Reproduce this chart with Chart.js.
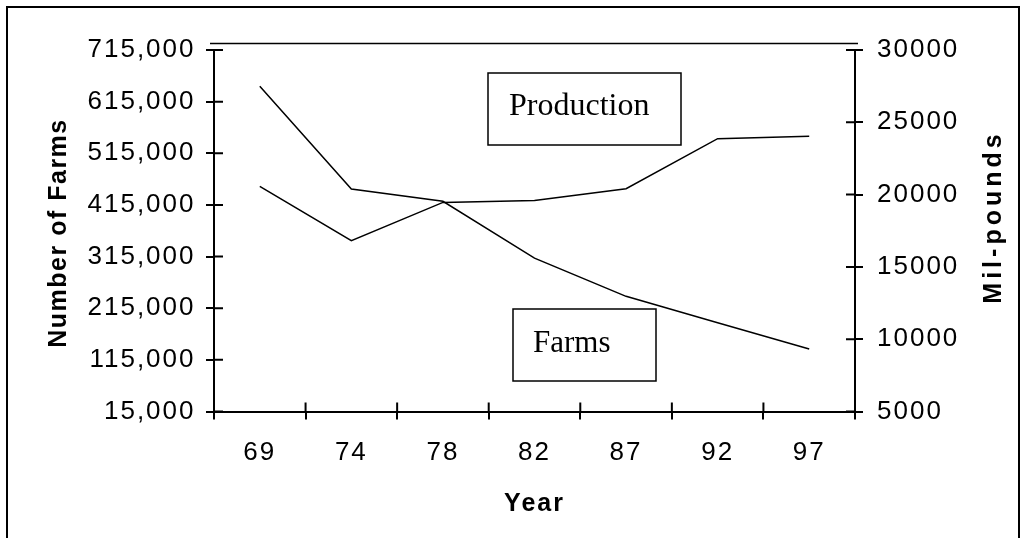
<!DOCTYPE html>
<html>
<head>
<meta charset="utf-8">
<script src="https://cdn.jsdelivr.net/npm/chart.js@4.4.1/dist/chart.umd.min.js"></script>
<style>
  html, body { margin: 0; padding: 0; background: #fff; }
  #wrap { width: 1025px; height: 538px; }
</style>
</head>
<body>
<div id="wrap"><canvas id="farmChart" width="1025" height="538"></canvas></div>
<script>
// Census years
var years = ['69', '74', '78', '82', '87', '92', '97'];
// Number of farms (left axis)
var farms = [645000, 446000, 422000, 312000, 238000, 187000, 136000];
// Production in million pounds (right axis)
var production = [20570, 16810, 19460, 19600, 20410, 23870, 24030];

var farmTicks = [15000, 115000, 215000, 315000, 415000, 515000, 615000, 715000];
var poundTicks = [5000, 10000, 15000, 20000, 25000, 30000];

Chart.defaults.font.family = '"Liberation Sans", Arial, sans-serif';
Chart.defaults.font.size = 26;
Chart.defaults.color = '#000';

function tickObjs(list) {
    return list.map(function(v) { return {value: v}; });
}

function verticalTitle(ctx, text, x, y, spacing) {
    ctx.save();
    ctx.letterSpacing = spacing;
    ctx.font = 'bold 25px "Liberation Sans", Arial, sans-serif';
    ctx.fillStyle = '#000';
    ctx.textAlign = 'center';
    ctx.textBaseline = 'alphabetic';
    ctx.translate(x, y);
    ctx.rotate(-Math.PI / 2);
    ctx.fillText(text, 0, 0);
    ctx.restore();
}

// frame, inner tick stubs, text boxes and the axis titles
var decorations = {
    id: 'decorations',
    beforeDraw: function(chart) {
        chart.ctx.letterSpacing = '2px';
    },
    afterDraw: function(chart) {
        var ctx = chart.ctx;
        var area = chart.chartArea;
        var x = chart.scales.x, yl = chart.scales.y, yr = chart.scales.y1;

        ctx.save();
        ctx.strokeStyle = '#000';
        ctx.lineWidth = 2;
        ctx.beginPath();
        yl.ticks.forEach(function(t, i) {
            var py = yl.getPixelForTick(i);
            ctx.moveTo(area.left, py);
            ctx.lineTo(area.left + 9, py);
        });
        yr.ticks.forEach(function(t, i) {
            var py = yr.getPixelForTick(i);
            ctx.moveTo(area.right, py);
            ctx.lineTo(area.right - 9, py);
        });
        for (var i = 1; i < years.length; i++) {
            var px = (x.getPixelForTick(i - 1) + x.getPixelForTick(i)) / 2;
            ctx.moveTo(px, area.bottom);
            ctx.lineTo(px, area.bottom - 9);
        }
        ctx.stroke();

        // outer frame
        ctx.beginPath();
        ctx.moveTo(7, 540);
        ctx.lineTo(7, 7);
        ctx.lineTo(1019, 7);
        ctx.lineTo(1019, 540);
        ctx.stroke();

        // thin line above the plot
        ctx.lineWidth = 1.5;
        ctx.beginPath();
        ctx.moveTo(area.left - 4, area.top - 6.5);
        ctx.lineTo(area.right + 3, area.top - 6.5);
        ctx.stroke();

        // axis titles, reading upwards
        verticalTitle(ctx, 'Number of Farms', 66, 233, '1.5px');
        verticalTitle(ctx, 'Mil-pounds', 1001, 217, '4px');

        // labelled boxes
        ctx.letterSpacing = '0px';
        ctx.lineWidth = 1.5;
        ctx.fillStyle = '#000';
        ctx.textAlign = 'left';
        ctx.textBaseline = 'alphabetic';
        ctx.strokeRect(488, 73, 193, 72);
        ctx.font = '32px "Liberation Serif", "Times New Roman", serif';
        ctx.fillText('Production', 509, 115);
        ctx.strokeRect(513, 309, 143, 72);
        ctx.font = '31px "Liberation Serif", "Times New Roman", serif';
        ctx.fillText('Farms', 533, 352);
        ctx.restore();
    }
};

var chart = new Chart(document.getElementById('farmChart'), {
    type: 'line',
    data: {
        labels: years,
        datasets: [{
            label: 'Farms',
            data: farms,
            yAxisID: 'y',
            borderColor: '#000',
            borderWidth: 1.5,
            pointRadius: 0,
            tension: 0,
            fill: false
        }, {
            label: 'Production',
            data: production,
            yAxisID: 'y1',
            borderColor: '#000',
            borderWidth: 1.5,
            pointRadius: 0,
            tension: 0,
            fill: false
        }]
    },
    options: {
        responsive: false,
        animation: false,
        layout: {padding: {top: 50, left: 38, right: 0, bottom: 0}},
        plugins: {
            legend: {display: false},
            tooltip: {enabled: false}
        },
        scales: {
            x: {
                offset: true,
                grid: {offset: true, drawOnChartArea: false, tickLength: 8, color: '#000', lineWidth: 2},
                border: {display: true, color: '#000', width: 2},
                ticks: {padding: 18, maxRotation: 0, autoSkip: false},
                title: {display: true, text: 'Year', font: {weight: 'bold', size: 25}, padding: {top: 4, bottom: 19}},
                afterFit: function(s) { s.height = 126.5; }
            },
            y: {
                position: 'left',
                min: 15000,
                max: 715000,
                afterBuildTicks: function(s) { s.ticks = tickObjs(farmTicks); },
                grid: {drawOnChartArea: false, tickLength: 8, color: '#000', lineWidth: 2},
                border: {display: true, color: '#000', width: 2},
                ticks: {
                    padding: 10.5,
                    callback: function(v) { return v.toLocaleString('en-US'); }
                },
                title: {display: false},
                afterFit: function(s) { s.width = 176; }
            },
            y1: {
                position: 'right',
                min: 5000,
                max: 30000,
                afterBuildTicks: function(s) { s.ticks = tickObjs(poundTicks); },
                grid: {drawOnChartArea: false, tickLength: 8, color: '#000', lineWidth: 2},
                border: {display: true, color: '#000', width: 2},
                ticks: {
                    padding: 14,
                    callback: function(v) { return String(v); }
                },
                title: {display: false},
                afterFit: function(s) { s.width = 170; }
            }
        }
    },
    plugins: [decorations]
});
</script>
</body>
</html>
